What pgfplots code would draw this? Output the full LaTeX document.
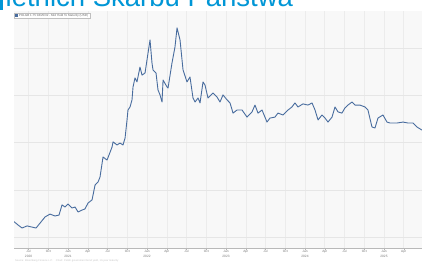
\documentclass[border=0pt]{standalone}
\usepackage{fontspec}
\setmainfont{Liberation Sans}
\usepackage{pgfplots}
\pgfplotsset{compat=1.18}
\definecolor{titleblue}{RGB}{0,150,214}
\definecolor{linecol}{RGB}{72,108,158}
\definecolor{plotbg}{RGB}{248,248,248}
\definecolor{gridc}{RGB}{230,230,230}
\definecolor{vgridc}{RGB}{236,236,236}
\definecolor{tickc}{RGB}{120,120,120}
\begin{document}
\begin{tikzpicture}[x=1bp,y=1bp]
\useasboundingbox (0,0) rectangle (422,262);
\clip (0,0) rectangle (422,262);
\fill[white] (0,0) rectangle (422,262);
\begin{axis}[
  at={(14bp,14bp)}, anchor=south west,
  scale only axis, width=409bp, height=237bp,
  xmin=2020.316, xmax=2025.494,
  ymin=-0.466, ymax=9.576,
  axis background/.style={fill=plotbg},
  axis x line*=bottom, axis y line*=left,
  y axis line style={draw=none},
  x axis line style={draw=gray!55, line width=0.5bp},
  ytick={0,2,4,6,8}, yticklabels={}, ytick style={draw=none},
  ymajorgrids, xmajorgrids,
  y grid style={draw=gridc, line width=0.5bp},
  x grid style={draw=vgridc, line width=0.5bp},
  xtick={2020.5,2020.75,2021,2021.25,2021.5,2021.75,2022,2022.25,2022.5,2022.75,2023,2023.25,2023.5,2023.75,2024,2024.25,2024.5,2024.75,2025,2025.25},
  xticklabels={Jul\\2020,Oct,Jan\\2021,Apr,Jul,Oct,Jan\\2022,Apr,Jul,Oct,Jan\\2023,Apr,Jul,Oct,Jan\\2024,Apr,Jul,Oct,Jan\\2025,Apr},
  xticklabel style={font=\fontsize{3.2bp}{4.2bp}\selectfont, text=tickc, align=center, inner sep=0.6bp},
  minor x tick num=2,
  tick align=outside,
  major tick length=1.8bp, minor tick length=1bp,
  xtick style={draw=gray!60, line width=0.3bp},
  minor x tick style={draw=gray!60, line width=0.3bp},
]
\addplot[color=linecol, line width=0.9bp, line join=round, no marks] coordinates {
(2020.316,0.65)(2020.367,0.51)(2020.418,0.38)(2020.481,0.47)(2020.544,0.42)(2020.595,0.38)
(2020.646,0.59)(2020.709,0.85)(2020.772,0.97)(2020.835,0.89)(2020.886,0.93)(2020.924,1.36)
(2020.962,1.27)(2021.000,1.40)(2021.051,1.23)(2021.089,1.27)(2021.127,1.06)(2021.177,1.14)
(2021.215,1.19)(2021.253,1.44)(2021.304,1.57)(2021.342,2.20)(2021.380,2.33)(2021.405,2.54)
(2021.443,3.39)(2021.494,3.26)(2021.557,3.81)(2021.570,4.03)(2021.620,3.90)(2021.658,3.98)
(2021.696,3.90)(2021.722,4.19)(2021.747,4.96)(2021.759,5.38)(2021.785,5.51)(2021.810,5.81)
(2021.823,6.36)(2021.848,6.74)(2021.873,6.57)(2021.911,7.20)(2021.937,6.86)(2021.975,6.95)
(2022.013,7.80)(2022.038,8.35)(2022.063,7.37)(2022.076,7.08)(2022.114,6.95)(2022.139,6.23)
(2022.165,6.02)(2022.190,5.72)(2022.203,6.65)(2022.253,6.36)(2022.266,6.31)(2022.316,7.37)
(2022.354,8.05)(2022.380,8.86)(2022.418,8.35)(2022.456,7.08)(2022.506,6.57)(2022.544,6.78)
(2022.582,5.89)(2022.608,5.72)(2022.646,5.89)(2022.671,5.68)(2022.709,6.57)(2022.734,6.44)
(2022.772,5.89)(2022.835,6.10)(2022.886,5.93)(2022.924,5.72)(2022.962,6.02)(2023.013,5.81)
(2023.051,5.68)(2023.089,5.25)(2023.139,5.38)(2023.203,5.38)(2023.266,5.08)(2023.329,5.30)
(2023.367,5.59)(2023.405,5.25)(2023.456,5.38)(2023.519,4.87)(2023.557,5.04)(2023.620,5.08)
(2023.658,5.25)(2023.722,5.17)(2023.785,5.38)(2023.835,5.51)(2023.873,5.68)(2023.911,5.51)
(2023.975,5.64)(2024.038,5.59)(2024.089,5.68)(2024.127,5.38)(2024.165,4.96)(2024.215,5.17)
(2024.253,5.04)(2024.291,4.87)(2024.342,5.08)(2024.380,5.51)(2024.418,5.30)(2024.468,5.25)
(2024.506,5.47)(2024.544,5.59)(2024.595,5.72)(2024.633,5.59)(2024.696,5.59)(2024.759,5.51)
(2024.797,5.38)(2024.848,4.66)(2024.886,4.62)(2024.924,5.04)(2024.987,5.17)(2025.038,4.87)
(2025.076,4.83)(2025.165,4.83)(2025.241,4.87)(2025.304,4.83)(2025.367,4.83)(2025.418,4.66)
(2025.481,4.53)
};
\end{axis}
% legend box
\draw[gray!50, fill=white, line width=0.3bp] (14,243.5) rectangle (90,249);
\fill[linecol] (15,244.5) rectangle (18,248);
\node[anchor=west, inner sep=0pt, text=gray!80!black, font=\fontsize{3bp}{3.5bp}\selectfont] at (18.8,246.3) {POLGB 1.75 04/25/32 - Mid Yield To Maturity (USD)};
% title (cut off at top)
\fill[titleblue] (0,252) rectangle (2.7,262);
\node[anchor=base west, inner sep=0pt, text=titleblue, font=\fontsize{27.5bp}{30bp}\selectfont] at (5.5,255.8) {letnich Skarbu Państwa};
% source
\node[anchor=west, inner sep=0pt, text=gray!45, font=\fontsize{2.6bp}{3bp}\selectfont] at (15,1.5) {Source: Bloomberg Finance L.P. \quad Chart: Polish government bond yield, 10-year maturity};
\end{tikzpicture}
\end{document}
